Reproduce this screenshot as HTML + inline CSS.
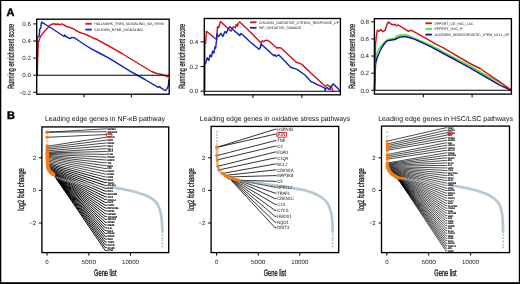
<!DOCTYPE html>
<html><head><meta charset="utf-8"><style>
html,body{margin:0;padding:0;background:#fff;}
svg{display:block;font-family:"Liberation Sans", sans-serif;will-change:transform;text-rendering:geometricPrecision;}
</style></head><body>
<svg width="520" height="284" viewBox="0 0 520 284">
<rect width="520" height="284" fill="#fff"/>
<rect x="0" y="0" width="520" height="1" fill="#000"/>
<rect x="0" y="0" width="1.3" height="284" fill="#000"/>
<rect x="518.8" y="0" width="1.2" height="284" fill="#000"/>
<rect x="0" y="282.2" width="520" height="1.8" fill="#000"/>
<text x="6.40" y="15.90" font-size="11" text-anchor="start" fill="#000" font-weight="bold" stroke="#000" stroke-width="0.45">A</text>
<text x="7.00" y="119.30" font-size="11" text-anchor="start" fill="#000" font-weight="bold" stroke="#000" stroke-width="0.45">B</text>
<line x1="33.20" y1="23.90" x2="36.70" y2="23.90" stroke="#000" stroke-width="1"/>
<text x="30.90" y="26.10" font-size="6.2" text-anchor="end" fill="#222" font-weight="normal" >0.6</text>
<line x1="33.20" y1="41.00" x2="36.70" y2="41.00" stroke="#000" stroke-width="1"/>
<text x="30.90" y="43.20" font-size="6.2" text-anchor="end" fill="#222" font-weight="normal" >0.4</text>
<line x1="33.20" y1="58.10" x2="36.70" y2="58.10" stroke="#000" stroke-width="1"/>
<text x="30.90" y="60.30" font-size="6.2" text-anchor="end" fill="#222" font-weight="normal" >0.2</text>
<line x1="33.20" y1="75.20" x2="36.70" y2="75.20" stroke="#000" stroke-width="1"/>
<text x="30.90" y="77.40" font-size="6.2" text-anchor="end" fill="#222" font-weight="normal" >0.0</text>
<line x1="33.20" y1="92.30" x2="36.70" y2="92.30" stroke="#000" stroke-width="1"/>
<text x="30.90" y="94.50" font-size="6.2" text-anchor="end" fill="#222" font-weight="normal" >−0.2</text>
<line x1="84.00" y1="94.20" x2="84.00" y2="97.40" stroke="#000" stroke-width="1"/>
<line x1="131.30" y1="94.20" x2="131.30" y2="97.40" stroke="#000" stroke-width="1"/>
<polyline points="37.30,75.20 37.60,60.00 38.20,43.40 39.20,40.00 40.30,37.00 41.30,35.50 42.40,33.90 43.50,32.50 44.50,31.20 46.00,29.80 47.70,28.00 49.00,26.50 50.30,24.90 52.00,24.20 54.00,23.80 56.00,24.20 58.00,24.00 60.40,24.60 62.00,23.80 64.00,25.00 66.70,26.50 70.00,27.50 73.00,28.60 76.00,30.50 79.40,32.30 82.00,33.30 84.70,33.90 88.00,35.50 92.30,37.70 96.00,39.00 99.40,40.80 107.00,45.00 115.20,49.60 122.00,53.50 130.00,58.50 140.00,64.50 151.50,71.50 157.00,73.50 163.00,74.80 166.00,76.20 167.20,76.80 168.50,76.00" fill="none" stroke="#d3121c" stroke-width="1.45" stroke-linejoin="round" stroke-linecap="round" />
<polyline points="37.10,75.20 37.10,50.00 37.10,37.00 38.50,36.50 39.20,36.00 39.80,29.10 40.80,28.00 41.20,24.00 41.60,22.20 52.00,28.50 64.00,36.50 64.60,34.90 66.00,36.50 69.90,38.60 72.00,37.40 74.10,37.60 80.00,41.50 85.00,45.00 91.40,48.80 101.10,54.00 109.00,58.10 130.00,71.10 145.00,79.50 158.10,87.30 159.60,86.40 160.60,87.70 163.00,89.20 165.60,90.60 167.20,88.40 168.40,85.60 168.90,80.00" fill="none" stroke="#0d26c2" stroke-width="1.45" stroke-linejoin="round" stroke-linecap="round" />
<line x1="36.70" y1="75.20" x2="169.20" y2="75.20" stroke="#000" stroke-width="1.1"/>
<rect x="36.70" y="19.20" width="132.50" height="75.00" fill="none" stroke="#000" stroke-width="1.35"/>
<text transform="translate(13.50,56.30) rotate(-90)" x="0" y="0" font-size="9" text-anchor="middle" fill="#1a1a1a" font-weight="normal" textLength="65" lengthAdjust="spacingAndGlyphs" stroke="#1a1a1a" stroke-width="0.3">Running enrichment score</text>
<line x1="85.30" y1="23.80" x2="91.80" y2="23.80" stroke="#d3121c" stroke-width="1.8"/>
<text x="94.30" y="25.05" font-size="3.6" text-anchor="start" fill="#111" font-weight="normal" textLength="69.5" lengthAdjust="spacingAndGlyphs" >HALLMARK_TNFA_SIGNALING_VIA_NFKB</text>
<line x1="85.30" y1="29.60" x2="91.80" y2="29.60" stroke="#0d26c2" stroke-width="1.8"/>
<text x="94.30" y="30.85" font-size="3.6" text-anchor="start" fill="#111" font-weight="normal" textLength="49" lengthAdjust="spacingAndGlyphs" >SCHOEN_NFKB_SIGNALING</text>
<line x1="200.50" y1="41.88" x2="204.30" y2="41.88" stroke="#000" stroke-width="1"/>
<text x="198.20" y="44.08" font-size="6.2" text-anchor="end" fill="#222" font-weight="normal" >0.4</text>
<line x1="200.50" y1="66.54" x2="204.30" y2="66.54" stroke="#000" stroke-width="1"/>
<text x="198.20" y="68.74" font-size="6.2" text-anchor="end" fill="#222" font-weight="normal" >0.2</text>
<line x1="200.50" y1="91.20" x2="204.30" y2="91.20" stroke="#000" stroke-width="1"/>
<text x="198.20" y="93.40" font-size="6.2" text-anchor="end" fill="#222" font-weight="normal" >0.0</text>
<line x1="252.90" y1="94.80" x2="252.90" y2="98.00" stroke="#000" stroke-width="1"/>
<line x1="301.90" y1="94.80" x2="301.90" y2="98.00" stroke="#000" stroke-width="1"/>
<polyline points="204.60,91.30 204.80,43.50 205.60,43.50 206.40,31.20 216.10,39.10 216.60,39.10 217.50,26.80 218.70,27.70 220.50,21.50 231.00,31.20 233.30,26.80 235.50,27.70 236.20,24.50 237.50,26.00 238.30,23.20 239.90,21.90 251.00,32.80 261.10,43.00 262.00,41.00 264.00,41.50 265.00,40.50 268.00,40.50 270.00,42.00 277.00,48.30 278.00,47.50 281.00,48.00 288.00,54.50 296.00,62.00 301.50,64.10 313.00,75.00 325.30,86.20 327.90,84.90 329.70,87.00 331.40,86.20 332.30,89.70 333.00,91.20" fill="none" stroke="#d3121c" stroke-width="1.45" stroke-linejoin="round" stroke-linecap="round" />
<polyline points="204.50,91.30 204.60,64.60 205.60,63.20 207.20,57.80 208.80,60.40 210.10,54.80 211.40,56.80 212.60,51.20 213.90,53.00 215.00,46.80 215.70,48.00 216.50,40.40 216.80,34.00 218.60,36.60 220.90,33.40 222.80,36.40 225.00,31.60 226.40,33.00 228.40,28.60 229.80,26.80 239.90,35.60 240.60,33.80 241.70,34.00 250.00,41.80 259.00,49.30 260.50,47.00 261.10,44.00 273.80,55.70 274.80,54.50 276.00,56.50 277.50,55.50 279.00,55.00 290.70,67.30 297.00,69.40 305.00,75.00 311.20,81.70 313.80,82.60 316.50,84.40 321.00,86.20 324.40,87.90 325.30,90.20 326.00,88.00 327.00,87.40 328.50,89.00 329.70,89.70 331.50,86.00 333.20,83.90 337.00,87.50 340.20,90.90" fill="none" stroke="#0d26c2" stroke-width="1.45" stroke-linejoin="round" stroke-linecap="round" />
<line x1="204.30" y1="91.20" x2="340.40" y2="91.20" stroke="#000" stroke-width="1.1"/>
<rect x="204.30" y="18.50" width="136.10" height="76.30" fill="none" stroke="#000" stroke-width="1.35"/>
<text transform="translate(184.70,56.30) rotate(-90)" x="0" y="0" font-size="9" text-anchor="middle" fill="#1a1a1a" font-weight="normal" textLength="65" lengthAdjust="spacingAndGlyphs" stroke="#1a1a1a" stroke-width="0.3">Running enrichment score</text>
<line x1="250.00" y1="22.30" x2="256.50" y2="22.30" stroke="#d3121c" stroke-width="1.8"/>
<text x="259.00" y="23.55" font-size="3.6" text-anchor="start" fill="#111" font-weight="normal" textLength="80" lengthAdjust="spacingAndGlyphs" >CHUANG_OXIDATIVE_STRESS_RESPONSE_UP</text>
<line x1="250.00" y1="27.80" x2="256.50" y2="27.80" stroke="#0d26c2" stroke-width="1.8"/>
<text x="259.00" y="29.05" font-size="3.6" text-anchor="start" fill="#111" font-weight="normal" textLength="42.3" lengthAdjust="spacingAndGlyphs" >WP_OXIDATIVE_DAMAGE</text>
<line x1="371.30" y1="21.82" x2="374.40" y2="21.82" stroke="#000" stroke-width="1"/>
<text x="369.00" y="24.02" font-size="6.2" text-anchor="end" fill="#222" font-weight="normal" >0.8</text>
<line x1="371.30" y1="38.94" x2="374.40" y2="38.94" stroke="#000" stroke-width="1"/>
<text x="369.00" y="41.14" font-size="6.2" text-anchor="end" fill="#222" font-weight="normal" >0.6</text>
<line x1="371.30" y1="56.06" x2="374.40" y2="56.06" stroke="#000" stroke-width="1"/>
<text x="369.00" y="58.26" font-size="6.2" text-anchor="end" fill="#222" font-weight="normal" >0.4</text>
<line x1="371.30" y1="73.18" x2="374.40" y2="73.18" stroke="#000" stroke-width="1"/>
<text x="369.00" y="75.38" font-size="6.2" text-anchor="end" fill="#222" font-weight="normal" >0.2</text>
<line x1="371.30" y1="90.30" x2="374.40" y2="90.30" stroke="#000" stroke-width="1"/>
<text x="369.00" y="92.50" font-size="6.2" text-anchor="end" fill="#222" font-weight="normal" >0.0</text>
<line x1="423.40" y1="94.10" x2="423.40" y2="97.30" stroke="#000" stroke-width="1"/>
<line x1="472.10" y1="94.10" x2="472.10" y2="97.30" stroke="#000" stroke-width="1"/>
<polyline points="374.50,90.30 375.00,72.00 376.20,55.00 377.60,51.20 379.00,48.90 380.80,46.50 382.60,44.30 385.00,41.50 387.00,40.00 389.60,39.20 394.90,38.30 396.50,36.00 398.00,35.80 401.00,34.80 403.00,35.30 405.50,34.80 409.00,36.00 412.50,37.40 422.00,41.40 430.60,45.20 450.00,55.30 470.00,66.00 485.00,74.40 501.40,83.50 506.00,86.80 510.50,90.00" fill="none" stroke="#3cee28" stroke-width="1.45" stroke-linejoin="round" stroke-linecap="round" />
<polyline points="374.50,90.30 375.00,78.00 375.50,63.80 377.00,58.00 379.00,53.20 380.80,49.50 382.60,46.20 385.00,43.00 387.00,40.90 390.00,40.20 394.90,39.50 397.50,38.00 400.20,37.00 404.60,36.50 409.00,37.50 414.30,39.10 422.00,42.70 430.60,46.70 450.00,57.00 470.00,67.90 485.00,76.50 499.80,85.10 504.60,87.40 510.50,90.00" fill="none" stroke="#1c0a96" stroke-width="1.45" stroke-linejoin="round" stroke-linecap="round" />
<polyline points="374.50,90.30 375.00,70.00 375.50,44.40 376.40,36.00 377.30,30.30 378.50,31.00 379.00,31.20 380.80,29.40 382.90,31.70 385.20,30.30 386.10,26.80 388.20,21.90 391.40,24.20 394.00,25.00 395.20,24.20 396.60,25.90 398.40,25.00 403.00,27.80 408.10,31.20 411.60,30.30 422.00,36.20 435.80,44.10 442.90,47.60 470.00,63.50 480.00,68.50 499.80,81.90 505.00,85.50 510.30,89.40" fill="none" stroke="#d3121c" stroke-width="1.45" stroke-linejoin="round" stroke-linecap="round" />
<line x1="374.40" y1="90.30" x2="511.40" y2="90.30" stroke="#000" stroke-width="1.1"/>
<rect x="374.40" y="18.70" width="137.00" height="75.40" fill="none" stroke="#000" stroke-width="1.35"/>
<text transform="translate(354.80,56.30) rotate(-90)" x="0" y="0" font-size="9" text-anchor="middle" fill="#1a1a1a" font-weight="normal" textLength="65" lengthAdjust="spacingAndGlyphs" stroke="#1a1a1a" stroke-width="0.3">Running enrichment score</text>
<line x1="425.40" y1="23.30" x2="431.90" y2="23.30" stroke="#d3121c" stroke-width="1.8"/>
<text x="434.40" y="24.55" font-size="3.6" text-anchor="start" fill="#111" font-weight="normal" textLength="39.3" lengthAdjust="spacingAndGlyphs" >EPPERT_CE_HSC_LSC</text>
<line x1="425.40" y1="28.90" x2="431.90" y2="28.90" stroke="#3cee28" stroke-width="1.8"/>
<text x="434.40" y="30.15" font-size="3.6" text-anchor="start" fill="#111" font-weight="normal" textLength="28.3" lengthAdjust="spacingAndGlyphs" >EPPERT_HSC_R</text>
<line x1="425.40" y1="34.60" x2="431.90" y2="34.60" stroke="#1c0a96" stroke-width="1.8"/>
<text x="434.40" y="35.85" font-size="3.6" text-anchor="start" fill="#111" font-weight="normal" textLength="75" lengthAdjust="spacingAndGlyphs" >JAATINEN_HEMATOPOIETIC_STEM_CELL_UP</text>
<line x1="38.90" y1="157.80" x2="41.90" y2="157.80" stroke="#000" stroke-width="1"/>
<text x="36.10" y="159.80" font-size="6" text-anchor="end" fill="#222" font-weight="normal" >2</text>
<line x1="38.90" y1="190.40" x2="41.90" y2="190.40" stroke="#000" stroke-width="1"/>
<text x="36.10" y="192.40" font-size="6" text-anchor="end" fill="#222" font-weight="normal" >0</text>
<line x1="38.90" y1="223.00" x2="41.90" y2="223.00" stroke="#000" stroke-width="1"/>
<text x="36.10" y="225.00" font-size="6" text-anchor="end" fill="#222" font-weight="normal" >−2</text>
<line x1="47.00" y1="252.60" x2="47.00" y2="255.60" stroke="#000" stroke-width="1"/>
<text x="47.00" y="264.00" font-size="6" text-anchor="middle" fill="#222" font-weight="normal" >0</text>
<line x1="88.75" y1="252.60" x2="88.75" y2="255.60" stroke="#000" stroke-width="1"/>
<text x="88.75" y="264.00" font-size="6" text-anchor="middle" fill="#222" font-weight="normal" textLength="14.6" lengthAdjust="spacingAndGlyphs" >5000</text>
<line x1="130.50" y1="252.60" x2="130.50" y2="255.60" stroke="#000" stroke-width="1"/>
<text x="130.50" y="264.00" font-size="6" text-anchor="middle" fill="#222" font-weight="normal" textLength="17" lengthAdjust="spacingAndGlyphs" >10000</text>
<text x="105.30" y="276.10" font-size="9.4" text-anchor="middle" fill="#1a1a1a" font-weight="normal" textLength="22.4" lengthAdjust="spacingAndGlyphs" stroke="#1a1a1a" stroke-width="0.35">Gene list</text>
<text transform="translate(24.10,189.40) rotate(-90)" x="0" y="0" font-size="9" text-anchor="middle" fill="#1a1a1a" font-weight="normal" textLength="42.5" lengthAdjust="spacingAndGlyphs" stroke="#1a1a1a" stroke-width="0.35">log2 fold change</text>
<text x="45.00" y="121.00" font-size="7" text-anchor="start" fill="#111" font-weight="normal" textLength="120.0" lengthAdjust="spacingAndGlyphs" >Leading edge genes in NF-κB pathway</text>
<polyline points="112.80,187.40 120.00,188.60 134.80,191.80 141.00,193.70 147.10,196.00 152.00,198.60 155.70,201.70 157.80,204.80 159.40,208.30 160.60,212.50 161.40,216.90 162.00,223.00 162.40,231.70" fill="none" stroke="#b6c9d3" stroke-width="2.6" stroke-linejoin="round" stroke-linecap="round" />
<path d="M47.20,132.20 L105.20,128.90 L106.80,128.90" fill="none" stroke="#000" stroke-width="0.72"/>
<path d="M47.20,132.20 L105.20,131.73 L106.80,131.73" fill="none" stroke="#000" stroke-width="0.72"/>
<path d="M47.20,137.30 L105.20,134.56 L106.80,134.56" fill="none" stroke="#000" stroke-width="0.72"/>
<path d="M47.30,146.20 L105.20,137.38 L106.80,137.38" fill="none" stroke="#000" stroke-width="0.72"/>
<path d="M47.30,147.73 L105.20,140.21 L106.80,140.21" fill="none" stroke="#000" stroke-width="0.72"/>
<path d="M47.30,149.27 L105.20,143.04 L106.80,143.04" fill="none" stroke="#000" stroke-width="0.72"/>
<path d="M47.30,150.80 L105.20,145.87 L106.80,145.87" fill="none" stroke="#000" stroke-width="0.72"/>
<path d="M47.30,152.20 L105.20,148.70 L106.80,148.70" fill="none" stroke="#000" stroke-width="0.72"/>
<path d="M47.30,152.90 L105.20,151.52 L106.80,151.52" fill="none" stroke="#000" stroke-width="0.72"/>
<path d="M47.30,153.60 L105.20,154.35 L106.80,154.35" fill="none" stroke="#000" stroke-width="0.72"/>
<path d="M47.30,154.30 L105.20,157.18 L106.80,157.18" fill="none" stroke="#000" stroke-width="0.72"/>
<path d="M47.30,155.40 L105.20,160.01 L106.80,160.01" fill="none" stroke="#000" stroke-width="0.72"/>
<path d="M47.30,156.35 L105.20,162.83 L106.80,162.83" fill="none" stroke="#000" stroke-width="0.72"/>
<path d="M47.30,157.30 L105.20,165.66 L106.80,165.66" fill="none" stroke="#000" stroke-width="0.72"/>
<path d="M47.30,158.40 L105.20,168.49 L106.80,168.49" fill="none" stroke="#000" stroke-width="0.72"/>
<path d="M47.40,159.70 L105.20,171.32 L106.80,171.32" fill="none" stroke="#000" stroke-width="0.72"/>
<path d="M47.50,161.00 L105.20,174.15 L106.80,174.15" fill="none" stroke="#000" stroke-width="0.72"/>
<path d="M47.60,162.30 L105.20,176.97 L106.80,176.97" fill="none" stroke="#000" stroke-width="0.72"/>
<path d="M47.70,163.60 L105.20,179.80 L106.80,179.80" fill="none" stroke="#000" stroke-width="0.95"/>
<path d="M47.71,164.82 L105.20,182.63 L106.80,182.63" fill="none" stroke="#000" stroke-width="0.95"/>
<path d="M47.76,165.95 L105.20,185.46 L106.80,185.46" fill="none" stroke="#000" stroke-width="0.95"/>
<path d="M47.88,166.98 L105.20,188.29 L106.80,188.29" fill="none" stroke="#000" stroke-width="0.95"/>
<path d="M48.08,167.92 L105.20,191.11 L106.80,191.11" fill="none" stroke="#000" stroke-width="0.95"/>
<path d="M48.35,168.77 L105.20,193.94 L106.80,193.94" fill="none" stroke="#000" stroke-width="0.95"/>
<path d="M48.69,169.55 L105.20,196.77 L106.80,196.77" fill="none" stroke="#000" stroke-width="0.95"/>
<path d="M49.08,170.24 L105.20,199.60 L106.80,199.60" fill="none" stroke="#000" stroke-width="0.95"/>
<path d="M49.50,170.87 L105.20,202.43 L106.80,202.43" fill="none" stroke="#000" stroke-width="0.95"/>
<path d="M49.95,171.42 L105.20,205.25 L106.80,205.25" fill="none" stroke="#000" stroke-width="0.95"/>
<path d="M50.40,171.91 L105.20,208.08 L106.80,208.08" fill="none" stroke="#000" stroke-width="0.95"/>
<path d="M50.84,172.34 L105.20,210.91 L106.80,210.91" fill="none" stroke="#000" stroke-width="0.95"/>
<path d="M51.25,172.71 L105.20,213.74 L106.80,213.74" fill="none" stroke="#000" stroke-width="0.95"/>
<path d="M51.64,173.03 L105.20,216.57 L106.80,216.57" fill="none" stroke="#000" stroke-width="0.95"/>
<path d="M51.99,173.30 L105.20,219.39 L106.80,219.39" fill="none" stroke="#000" stroke-width="0.95"/>
<path d="M52.29,173.52 L105.20,222.22 L106.80,222.22" fill="none" stroke="#000" stroke-width="0.95"/>
<path d="M52.55,173.71 L105.20,225.05 L106.80,225.05" fill="none" stroke="#000" stroke-width="0.95"/>
<path d="M52.77,173.85 L105.20,227.88 L106.80,227.88" fill="none" stroke="#000" stroke-width="0.95"/>
<path d="M52.94,173.97 L105.20,230.70 L106.80,230.70" fill="none" stroke="#000" stroke-width="0.95"/>
<path d="M53.07,174.05 L105.20,233.53 L106.80,233.53" fill="none" stroke="#000" stroke-width="0.95"/>
<path d="M53.17,174.12 L105.20,236.36 L106.80,236.36" fill="none" stroke="#000" stroke-width="0.95"/>
<path d="M53.23,174.16 L105.20,239.19 L106.80,239.19" fill="none" stroke="#000" stroke-width="0.95"/>
<path d="M53.27,174.18 L105.20,242.02 L106.80,242.02" fill="none" stroke="#000" stroke-width="0.95"/>
<path d="M53.29,174.19 L105.20,244.84 L106.80,244.84" fill="none" stroke="#000" stroke-width="0.95"/>
<path d="M53.30,174.20 L105.20,247.67 L106.80,247.67" fill="none" stroke="#000" stroke-width="0.95"/>
<path d="M53.30,174.20 L105.20,250.50 L106.80,250.50" fill="none" stroke="#000" stroke-width="0.95"/>
<polyline points="47.30,146.50 47.40,150.00 47.80,160.00 48.50,167.00 50.00,172.00 52.00,174.50 56.00,177.00 62.00,179.30 71.60,181.60 85.00,184.00 100.00,186.00 112.80,187.40 120.00,188.60 134.80,191.80 141.00,193.70 147.10,196.00 152.00,198.60 155.70,201.70 157.80,204.80 159.40,208.30 160.60,212.50 161.40,216.90 162.00,223.00 162.40,231.70" fill="none" stroke="#b6c9d3" stroke-width="2.4" stroke-linejoin="round" stroke-linecap="round" stroke-opacity="0.45"/>
<circle cx="47.20" cy="141.30" r="1.1" fill="#b6c9d3"/>
<circle cx="47.20" cy="144.40" r="1.1" fill="#b6c9d3"/>
<circle cx="162.40" cy="234.80" r="1.1" fill="#b6c9d3"/>
<circle cx="162.40" cy="237.90" r="1.1" fill="#b6c9d3"/>
<circle cx="162.40" cy="240.30" r="1.1" fill="#b6c9d3"/>
<circle cx="162.40" cy="243.50" r="1.1" fill="#b6c9d3"/>
<circle cx="162.40" cy="246.50" r="1.1" fill="#b6c9d3"/>
<circle cx="47.20" cy="132.20" r="1.75" fill="#f57a14"/>
<circle cx="47.20" cy="132.20" r="1.75" fill="#f57a14"/>
<circle cx="47.20" cy="137.30" r="1.75" fill="#f57a14"/>
<circle cx="47.30" cy="146.20" r="1.75" fill="#f57a14"/>
<circle cx="47.30" cy="147.73" r="1.75" fill="#f57a14"/>
<circle cx="47.30" cy="149.27" r="1.75" fill="#f57a14"/>
<circle cx="47.30" cy="150.80" r="1.75" fill="#f57a14"/>
<circle cx="47.30" cy="152.20" r="1.75" fill="#f57a14"/>
<circle cx="47.30" cy="152.90" r="1.75" fill="#f57a14"/>
<circle cx="47.30" cy="153.60" r="1.75" fill="#f57a14"/>
<circle cx="47.30" cy="154.30" r="1.75" fill="#f57a14"/>
<circle cx="47.30" cy="155.40" r="1.75" fill="#f57a14"/>
<circle cx="47.30" cy="156.35" r="1.75" fill="#f57a14"/>
<circle cx="47.30" cy="157.30" r="1.75" fill="#f57a14"/>
<circle cx="47.30" cy="158.40" r="1.75" fill="#f57a14"/>
<circle cx="47.40" cy="159.70" r="1.75" fill="#f57a14"/>
<circle cx="47.50" cy="161.00" r="1.75" fill="#f57a14"/>
<circle cx="47.60" cy="162.30" r="1.75" fill="#f57a14"/>
<circle cx="47.70" cy="163.60" r="1.75" fill="#f57a14"/>
<circle cx="47.71" cy="164.82" r="1.75" fill="#f57a14"/>
<circle cx="47.76" cy="165.95" r="1.75" fill="#f57a14"/>
<circle cx="47.88" cy="166.98" r="1.75" fill="#f57a14"/>
<circle cx="48.08" cy="167.92" r="1.75" fill="#f57a14"/>
<circle cx="48.35" cy="168.77" r="1.75" fill="#f57a14"/>
<circle cx="48.69" cy="169.55" r="1.75" fill="#f57a14"/>
<circle cx="49.08" cy="170.24" r="1.75" fill="#f57a14"/>
<circle cx="49.50" cy="170.87" r="1.75" fill="#f57a14"/>
<circle cx="49.95" cy="171.42" r="1.75" fill="#f57a14"/>
<circle cx="50.40" cy="171.91" r="1.75" fill="#f57a14"/>
<circle cx="50.84" cy="172.34" r="1.75" fill="#f57a14"/>
<circle cx="51.25" cy="172.71" r="1.75" fill="#f57a14"/>
<circle cx="51.64" cy="173.03" r="1.75" fill="#f57a14"/>
<circle cx="51.99" cy="173.30" r="1.75" fill="#f57a14"/>
<circle cx="52.29" cy="173.52" r="1.75" fill="#f57a14"/>
<circle cx="52.55" cy="173.71" r="1.75" fill="#f57a14"/>
<circle cx="52.77" cy="173.85" r="1.75" fill="#f57a14"/>
<circle cx="52.94" cy="173.97" r="1.75" fill="#f57a14"/>
<circle cx="53.07" cy="174.05" r="1.75" fill="#f57a14"/>
<circle cx="53.17" cy="174.12" r="1.75" fill="#f57a14"/>
<circle cx="53.23" cy="174.16" r="1.75" fill="#f57a14"/>
<circle cx="53.27" cy="174.18" r="1.75" fill="#f57a14"/>
<circle cx="53.29" cy="174.19" r="1.75" fill="#f57a14"/>
<circle cx="53.30" cy="174.20" r="1.75" fill="#f57a14"/>
<circle cx="53.30" cy="174.20" r="1.75" fill="#f57a14"/>
<text x="107.40" y="129.84" font-size="2.6" text-anchor="start" fill="#111" font-weight="normal" textLength="8.4" lengthAdjust="spacingAndGlyphs" stroke="#111" stroke-width="0.18">NFKBIA</text>
<text x="107.40" y="132.66" font-size="2.6" text-anchor="start" fill="#111" font-weight="normal" textLength="9.8" lengthAdjust="spacingAndGlyphs" stroke="#111" stroke-width="0.18">TNFAIP3</text>
<text x="107.40" y="135.49" font-size="2.6" text-anchor="start" fill="#111" font-weight="normal" textLength="4.2" lengthAdjust="spacingAndGlyphs" stroke="#111" stroke-width="0.18">JUN</text>
<text x="107.40" y="138.32" font-size="2.6" text-anchor="start" fill="#111" font-weight="normal" textLength="7.0" lengthAdjust="spacingAndGlyphs" stroke="#111" stroke-width="0.18">CXCL8</text>
<text x="107.40" y="141.15" font-size="2.6" text-anchor="start" fill="#111" font-weight="normal" textLength="5.6" lengthAdjust="spacingAndGlyphs" stroke="#111" stroke-width="0.18">IER3</text>
<text x="107.40" y="143.98" font-size="2.6" text-anchor="start" fill="#111" font-weight="normal" textLength="7.0" lengthAdjust="spacingAndGlyphs" stroke="#111" stroke-width="0.18">NFKB1</text>
<text x="107.40" y="146.80" font-size="2.6" text-anchor="start" fill="#111" font-weight="normal" textLength="5.6" lengthAdjust="spacingAndGlyphs" stroke="#111" stroke-width="0.18">RELB</text>
<text x="107.40" y="149.63" font-size="2.6" text-anchor="start" fill="#111" font-weight="normal" textLength="5.6" lengthAdjust="spacingAndGlyphs" stroke="#111" stroke-width="0.18">CCL4</text>
<text x="107.40" y="152.46" font-size="2.6" text-anchor="start" fill="#111" font-weight="normal" textLength="5.6" lengthAdjust="spacingAndGlyphs" stroke="#111" stroke-width="0.18">CCL3</text>
<text x="107.40" y="155.29" font-size="2.6" text-anchor="start" fill="#111" font-weight="normal" textLength="5.6" lengthAdjust="spacingAndGlyphs" stroke="#111" stroke-width="0.18">IL1B</text>
<text x="107.40" y="158.12" font-size="2.6" text-anchor="start" fill="#111" font-weight="normal" textLength="7.0" lengthAdjust="spacingAndGlyphs" stroke="#111" stroke-width="0.18">PTGS2</text>
<text x="107.40" y="160.94" font-size="2.6" text-anchor="start" fill="#111" font-weight="normal" textLength="7.0" lengthAdjust="spacingAndGlyphs" stroke="#111" stroke-width="0.18">BIRC3</text>
<text x="107.40" y="163.77" font-size="2.6" text-anchor="start" fill="#111" font-weight="normal" textLength="4.2" lengthAdjust="spacingAndGlyphs" stroke="#111" stroke-width="0.18">TNF</text>
<text x="107.40" y="166.60" font-size="2.6" text-anchor="start" fill="#111" font-weight="normal" textLength="5.6" lengthAdjust="spacingAndGlyphs" stroke="#111" stroke-width="0.18">EGR1</text>
<text x="107.40" y="169.43" font-size="2.6" text-anchor="start" fill="#111" font-weight="normal" textLength="4.2" lengthAdjust="spacingAndGlyphs" stroke="#111" stroke-width="0.18">FOS</text>
<text x="107.40" y="172.25" font-size="2.6" text-anchor="start" fill="#111" font-weight="normal" textLength="7.0" lengthAdjust="spacingAndGlyphs" stroke="#111" stroke-width="0.18">NR4A1</text>
<text x="107.40" y="175.08" font-size="2.6" text-anchor="start" fill="#111" font-weight="normal" textLength="7.0" lengthAdjust="spacingAndGlyphs" stroke="#111" stroke-width="0.18">ICAM1</text>
<text x="107.40" y="177.91" font-size="2.6" text-anchor="start" fill="#111" font-weight="normal" textLength="5.6" lengthAdjust="spacingAndGlyphs" stroke="#111" stroke-width="0.18">CD83</text>
<text x="107.40" y="180.74" font-size="2.6" text-anchor="start" fill="#111" font-weight="normal" textLength="5.6" lengthAdjust="spacingAndGlyphs" stroke="#111" stroke-width="0.18">SOD2</text>
<text x="107.40" y="183.57" font-size="2.6" text-anchor="start" fill="#111" font-weight="normal" textLength="7.0" lengthAdjust="spacingAndGlyphs" stroke="#111" stroke-width="0.18">TRAF1</text>
<text x="107.40" y="186.39" font-size="2.6" text-anchor="start" fill="#111" font-weight="normal" textLength="8.4" lengthAdjust="spacingAndGlyphs" stroke="#111" stroke-width="0.18">BCL2A1</text>
<text x="107.40" y="189.22" font-size="2.6" text-anchor="start" fill="#111" font-weight="normal" textLength="5.6" lengthAdjust="spacingAndGlyphs" stroke="#111" stroke-width="0.18">PLAU</text>
<text x="107.40" y="192.05" font-size="2.6" text-anchor="start" fill="#111" font-weight="normal" textLength="5.6" lengthAdjust="spacingAndGlyphs" stroke="#111" stroke-width="0.18">IRF1</text>
<text x="107.40" y="194.88" font-size="2.6" text-anchor="start" fill="#111" font-weight="normal" textLength="9.8" lengthAdjust="spacingAndGlyphs" stroke="#111" stroke-width="0.18">GADD45B</text>
<text x="107.40" y="197.71" font-size="2.6" text-anchor="start" fill="#111" font-weight="normal" textLength="5.6" lengthAdjust="spacingAndGlyphs" stroke="#111" stroke-width="0.18">ATF3</text>
<text x="107.40" y="200.53" font-size="2.6" text-anchor="start" fill="#111" font-weight="normal" textLength="8.4" lengthAdjust="spacingAndGlyphs" stroke="#111" stroke-width="0.18">CDKN1A</text>
<text x="107.40" y="203.36" font-size="2.6" text-anchor="start" fill="#111" font-weight="normal" textLength="5.6" lengthAdjust="spacingAndGlyphs" stroke="#111" stroke-width="0.18">KLF6</text>
<text x="107.40" y="206.19" font-size="2.6" text-anchor="start" fill="#111" font-weight="normal" textLength="7.0" lengthAdjust="spacingAndGlyphs" stroke="#111" stroke-width="0.18">DUSP1</text>
<text x="107.40" y="209.02" font-size="2.6" text-anchor="start" fill="#111" font-weight="normal" textLength="11.2" lengthAdjust="spacingAndGlyphs" stroke="#111" stroke-width="0.18">PPP1R15A</text>
<text x="107.40" y="211.85" font-size="2.6" text-anchor="start" fill="#111" font-weight="normal" textLength="7.0" lengthAdjust="spacingAndGlyphs" stroke="#111" stroke-width="0.18">ZFP36</text>
<text x="107.40" y="214.67" font-size="2.6" text-anchor="start" fill="#111" font-weight="normal" textLength="8.4" lengthAdjust="spacingAndGlyphs" stroke="#111" stroke-width="0.18">MAP3K8</text>
<text x="107.40" y="217.50" font-size="2.6" text-anchor="start" fill="#111" font-weight="normal" textLength="9.8" lengthAdjust="spacingAndGlyphs" stroke="#111" stroke-width="0.18">TNFAIP2</text>
<text x="107.40" y="220.33" font-size="2.6" text-anchor="start" fill="#111" font-weight="normal" textLength="8.4" lengthAdjust="spacingAndGlyphs" stroke="#111" stroke-width="0.18">SQSTM1</text>
<text x="107.40" y="223.16" font-size="2.6" text-anchor="start" fill="#111" font-weight="normal" textLength="7.0" lengthAdjust="spacingAndGlyphs" stroke="#111" stroke-width="0.18">NFKB2</text>
<text x="107.40" y="225.98" font-size="2.6" text-anchor="start" fill="#111" font-weight="normal" textLength="7.0" lengthAdjust="spacingAndGlyphs" stroke="#111" stroke-width="0.18">CEBPB</text>
<text x="107.40" y="228.81" font-size="2.6" text-anchor="start" fill="#111" font-weight="normal" textLength="4.2" lengthAdjust="spacingAndGlyphs" stroke="#111" stroke-width="0.18">IL6</text>
<text x="107.40" y="231.64" font-size="2.6" text-anchor="start" fill="#111" font-weight="normal" textLength="5.6" lengthAdjust="spacingAndGlyphs" stroke="#111" stroke-width="0.18">IRF4</text>
<text x="107.40" y="234.47" font-size="2.6" text-anchor="start" fill="#111" font-weight="normal" textLength="7.0" lengthAdjust="spacingAndGlyphs" stroke="#111" stroke-width="0.18">PDE4B</text>
<text x="107.40" y="237.30" font-size="2.6" text-anchor="start" fill="#111" font-weight="normal" textLength="7.0" lengthAdjust="spacingAndGlyphs" stroke="#111" stroke-width="0.18">RIPK2</text>
<text x="107.40" y="240.12" font-size="2.6" text-anchor="start" fill="#111" font-weight="normal" textLength="5.6" lengthAdjust="spacingAndGlyphs" stroke="#111" stroke-width="0.18">SGK1</text>
<text x="107.40" y="242.95" font-size="2.6" text-anchor="start" fill="#111" font-weight="normal" textLength="7.0" lengthAdjust="spacingAndGlyphs" stroke="#111" stroke-width="0.18">TNIP1</text>
<text x="107.40" y="245.78" font-size="2.6" text-anchor="start" fill="#111" font-weight="normal" textLength="7.0" lengthAdjust="spacingAndGlyphs" stroke="#111" stroke-width="0.18">IFIT2</text>
<text x="107.40" y="248.61" font-size="2.6" text-anchor="start" fill="#111" font-weight="normal" textLength="7.0" lengthAdjust="spacingAndGlyphs" stroke="#111" stroke-width="0.18">CCL20</text>
<text x="107.40" y="251.44" font-size="2.6" text-anchor="start" fill="#111" font-weight="normal" textLength="5.6" lengthAdjust="spacingAndGlyphs" stroke="#111" stroke-width="0.18">BTG2</text>
<rect x="106.30" y="133.20" width="5.60" height="3.30" fill="none" stroke="#e3202c" stroke-width="1.0" rx="0.6"/>
<rect x="41.90" y="126.90" width="126.80" height="125.70" fill="none" stroke="#000" stroke-width="1.35"/>
<line x1="208.10" y1="157.80" x2="211.10" y2="157.80" stroke="#000" stroke-width="1"/>
<text x="205.30" y="159.80" font-size="6" text-anchor="end" fill="#222" font-weight="normal" >2</text>
<line x1="208.10" y1="190.40" x2="211.10" y2="190.40" stroke="#000" stroke-width="1"/>
<text x="205.30" y="192.40" font-size="6" text-anchor="end" fill="#222" font-weight="normal" >0</text>
<line x1="208.10" y1="223.00" x2="211.10" y2="223.00" stroke="#000" stroke-width="1"/>
<text x="205.30" y="225.00" font-size="6" text-anchor="end" fill="#222" font-weight="normal" >−2</text>
<line x1="216.60" y1="252.60" x2="216.60" y2="255.60" stroke="#000" stroke-width="1"/>
<text x="216.60" y="264.00" font-size="6" text-anchor="middle" fill="#222" font-weight="normal" >0</text>
<line x1="258.20" y1="252.60" x2="258.20" y2="255.60" stroke="#000" stroke-width="1"/>
<text x="258.20" y="264.00" font-size="6" text-anchor="middle" fill="#222" font-weight="normal" textLength="14.6" lengthAdjust="spacingAndGlyphs" >5000</text>
<line x1="299.80" y1="252.60" x2="299.80" y2="255.60" stroke="#000" stroke-width="1"/>
<text x="299.80" y="264.00" font-size="6" text-anchor="middle" fill="#222" font-weight="normal" textLength="17" lengthAdjust="spacingAndGlyphs" >10000</text>
<text x="274.90" y="276.10" font-size="9.4" text-anchor="middle" fill="#1a1a1a" font-weight="normal" textLength="22.4" lengthAdjust="spacingAndGlyphs" stroke="#1a1a1a" stroke-width="0.35">Gene list</text>
<text transform="translate(193.80,189.40) rotate(-90)" x="0" y="0" font-size="9" text-anchor="middle" fill="#1a1a1a" font-weight="normal" textLength="42.5" lengthAdjust="spacingAndGlyphs" stroke="#1a1a1a" stroke-width="0.35">log2 fold change</text>
<text x="199.80" y="121.00" font-size="7" text-anchor="start" fill="#111" font-weight="normal" textLength="150.2" lengthAdjust="spacingAndGlyphs" >Leading edge genes in oxidative stress pathways</text>
<polyline points="217.00,146.50 217.00,150.00 217.10,160.00 217.60,165.00 218.60,169.00 220.50,171.80 222.50,173.40 225.00,175.50 227.50,177.00 231.00,178.50 235.00,179.40 239.20,180.30 245.00,181.80 254.00,182.60 262.00,183.60 270.00,184.80 281.30,186.30 290.00,187.60 304.80,190.30 311.00,192.20 317.10,194.80 322.00,197.60 325.70,200.90 327.80,203.80 329.40,207.10 330.80,211.50 331.90,216.90 332.40,223.00 332.60,231.70" fill="none" stroke="#b6c9d3" stroke-width="2.6" stroke-linejoin="round" stroke-linecap="round" />
<path d="M217.00,147.30 L275.00,129.30 L276.60,129.30" fill="none" stroke="#000" stroke-width="0.8"/>
<path d="M217.00,147.30 L275.00,134.20 L276.60,134.20" fill="none" stroke="#000" stroke-width="0.8"/>
<path d="M216.90,155.60 L275.00,140.70 L276.60,140.70" fill="none" stroke="#000" stroke-width="0.8"/>
<path d="M217.30,159.90 L275.00,146.20 L276.60,146.20" fill="none" stroke="#000" stroke-width="0.8"/>
<path d="M217.90,166.30 L275.00,152.00 L276.60,152.00" fill="none" stroke="#000" stroke-width="0.8"/>
<path d="M219.00,169.90 L275.00,157.90 L276.60,157.90" fill="none" stroke="#000" stroke-width="0.8"/>
<path d="M222.50,173.40 L275.00,164.00 L276.60,164.00" fill="none" stroke="#000" stroke-width="0.8"/>
<path d="M225.00,175.50 L275.00,169.90 L276.60,169.90" fill="none" stroke="#000" stroke-width="0.8"/>
<path d="M227.50,177.00 L275.00,175.60 L276.60,175.60" fill="none" stroke="#000" stroke-width="0.8"/>
<path d="M239.20,180.30 L275.00,181.30 L276.60,181.30" fill="none" stroke="#000" stroke-width="0.8"/>
<path d="M237.20,179.80 L275.00,187.20 L276.60,187.20" fill="none" stroke="#000" stroke-width="0.8"/>
<path d="M235.20,179.30 L275.00,193.10 L276.60,193.10" fill="none" stroke="#000" stroke-width="0.8"/>
<path d="M233.20,178.90 L275.00,198.60 L276.60,198.60" fill="none" stroke="#000" stroke-width="0.8"/>
<path d="M231.30,178.50 L275.00,204.30 L276.60,204.30" fill="none" stroke="#000" stroke-width="0.8"/>
<path d="M230.60,178.40 L275.00,210.40 L276.60,210.40" fill="none" stroke="#000" stroke-width="0.8"/>
<path d="M230.00,178.30 L275.00,216.30 L276.60,216.30" fill="none" stroke="#000" stroke-width="0.8"/>
<path d="M229.60,178.30 L275.00,222.20 L276.60,222.20" fill="none" stroke="#000" stroke-width="0.8"/>
<path d="M229.30,178.20 L275.00,227.70 L276.60,227.70" fill="none" stroke="#000" stroke-width="0.8"/>
<polyline points="217.00,146.50 217.00,150.00 217.10,160.00 217.60,165.00 218.60,169.00 220.50,171.80 222.50,173.40 225.00,175.50 227.50,177.00 231.00,178.50 235.00,179.40 239.20,180.30 245.00,181.80 254.00,182.60 262.00,183.60 270.00,184.80 281.30,186.30 290.00,187.60 304.80,190.30 311.00,192.20 317.10,194.80 322.00,197.60 325.70,200.90 327.80,203.80 329.40,207.10 330.80,211.50 331.90,216.90 332.40,223.00 332.60,231.70" fill="none" stroke="#b6c9d3" stroke-width="2.4" stroke-linejoin="round" stroke-linecap="round" stroke-opacity="0.45"/>
<circle cx="217.00" cy="131.80" r="1.1" fill="#b6c9d3"/>
<circle cx="217.00" cy="134.90" r="1.1" fill="#b6c9d3"/>
<circle cx="217.00" cy="138.00" r="1.1" fill="#b6c9d3"/>
<circle cx="217.00" cy="141.20" r="1.1" fill="#b6c9d3"/>
<circle cx="217.00" cy="144.00" r="1.1" fill="#b6c9d3"/>
<circle cx="332.60" cy="234.60" r="1.1" fill="#b6c9d3"/>
<circle cx="332.60" cy="237.90" r="1.1" fill="#b6c9d3"/>
<circle cx="332.60" cy="240.30" r="1.1" fill="#b6c9d3"/>
<circle cx="332.60" cy="243.50" r="1.1" fill="#b6c9d3"/>
<circle cx="332.60" cy="246.50" r="1.1" fill="#b6c9d3"/>
<circle cx="217.00" cy="147.30" r="1.65" fill="#f57a14"/>
<circle cx="217.00" cy="147.30" r="1.65" fill="#f57a14"/>
<circle cx="216.90" cy="155.60" r="1.65" fill="#f57a14"/>
<circle cx="217.30" cy="159.90" r="1.65" fill="#f57a14"/>
<circle cx="217.90" cy="166.30" r="1.65" fill="#f57a14"/>
<circle cx="219.00" cy="169.90" r="1.65" fill="#f57a14"/>
<circle cx="222.50" cy="173.40" r="1.65" fill="#f57a14"/>
<circle cx="225.00" cy="175.50" r="1.65" fill="#f57a14"/>
<circle cx="227.50" cy="177.00" r="1.65" fill="#f57a14"/>
<circle cx="239.20" cy="180.30" r="1.65" fill="#f57a14"/>
<circle cx="237.20" cy="179.80" r="1.65" fill="#f57a14"/>
<circle cx="235.20" cy="179.30" r="1.65" fill="#f57a14"/>
<circle cx="233.20" cy="178.90" r="1.65" fill="#f57a14"/>
<circle cx="231.30" cy="178.50" r="1.65" fill="#f57a14"/>
<circle cx="230.60" cy="178.40" r="1.65" fill="#f57a14"/>
<circle cx="230.00" cy="178.30" r="1.65" fill="#f57a14"/>
<circle cx="229.60" cy="178.30" r="1.65" fill="#f57a14"/>
<circle cx="229.30" cy="178.20" r="1.65" fill="#f57a14"/>
<text x="277.20" y="130.99" font-size="4.7" text-anchor="start" fill="#111" font-weight="normal" textLength="15.83" lengthAdjust="spacingAndGlyphs" >HSPA1B</text>
<text x="277.20" y="135.89" font-size="4.7" text-anchor="start" fill="#111" font-weight="normal" textLength="7.95" lengthAdjust="spacingAndGlyphs" >JUN</text>
<text x="277.20" y="142.39" font-size="4.7" text-anchor="start" fill="#111" font-weight="normal" textLength="7.95" lengthAdjust="spacingAndGlyphs" >TNF</text>
<text x="277.20" y="147.89" font-size="4.7" text-anchor="start" fill="#111" font-weight="normal" textLength="5.23" lengthAdjust="spacingAndGlyphs" >C3</text>
<text x="277.20" y="153.69" font-size="4.7" text-anchor="start" fill="#111" font-weight="normal" textLength="11.13" lengthAdjust="spacingAndGlyphs" >EGR1</text>
<text x="277.20" y="159.59" font-size="4.7" text-anchor="start" fill="#111" font-weight="normal" textLength="11.13" lengthAdjust="spacingAndGlyphs" >C1QA</text>
<text x="277.20" y="165.69" font-size="4.7" text-anchor="start" fill="#111" font-weight="normal" textLength="10.23" lengthAdjust="spacingAndGlyphs" >BCL2</text>
<text x="277.20" y="171.59" font-size="4.7" text-anchor="start" fill="#111" font-weight="normal" textLength="16.59" lengthAdjust="spacingAndGlyphs" >CDKN1A</text>
<text x="277.20" y="177.29" font-size="4.7" text-anchor="start" fill="#111" font-weight="normal" textLength="16.14" lengthAdjust="spacingAndGlyphs" >MAP3K8</text>
<text x="277.20" y="182.99" font-size="4.7" text-anchor="start" fill="#111" font-weight="normal" textLength="5.23" lengthAdjust="spacingAndGlyphs" >C5</text>
<text x="277.20" y="188.89" font-size="4.7" text-anchor="start" fill="#111" font-weight="normal" textLength="15.0" lengthAdjust="spacingAndGlyphs" >NFE2L2</text>
<text x="277.20" y="194.79" font-size="4.7" text-anchor="start" fill="#111" font-weight="normal" textLength="12.95" lengthAdjust="spacingAndGlyphs" >TRAF1</text>
<text x="277.20" y="200.29" font-size="4.7" text-anchor="start" fill="#111" font-weight="normal" textLength="16.81" lengthAdjust="spacingAndGlyphs" >CDKN1C</text>
<text x="277.20" y="205.99" font-size="4.7" text-anchor="start" fill="#111" font-weight="normal" textLength="7.95" lengthAdjust="spacingAndGlyphs" >C1S</text>
<text x="277.20" y="212.09" font-size="4.7" text-anchor="start" fill="#111" font-weight="normal" textLength="11.36" lengthAdjust="spacingAndGlyphs" >CYCS</text>
<text x="277.20" y="217.99" font-size="4.7" text-anchor="start" fill="#111" font-weight="normal" textLength="14.54" lengthAdjust="spacingAndGlyphs" >HMOX1</text>
<text x="277.20" y="223.89" font-size="4.7" text-anchor="start" fill="#111" font-weight="normal" textLength="11.59" lengthAdjust="spacingAndGlyphs" >NQO1</text>
<text x="277.20" y="229.39" font-size="4.7" text-anchor="start" fill="#111" font-weight="normal" textLength="11.81" lengthAdjust="spacingAndGlyphs" >DDIT3</text>
<rect x="276.90" y="132.40" width="9.60" height="4.80" fill="none" stroke="#e3202c" stroke-width="1.0" rx="0.6"/>
<rect x="211.10" y="126.40" width="127.60" height="126.20" fill="none" stroke="#000" stroke-width="1.35"/>
<line x1="378.50" y1="157.80" x2="381.50" y2="157.80" stroke="#000" stroke-width="1"/>
<text x="375.70" y="159.80" font-size="6" text-anchor="end" fill="#222" font-weight="normal" >2</text>
<line x1="378.50" y1="190.40" x2="381.50" y2="190.40" stroke="#000" stroke-width="1"/>
<text x="375.70" y="192.40" font-size="6" text-anchor="end" fill="#222" font-weight="normal" >0</text>
<line x1="378.50" y1="223.00" x2="381.50" y2="223.00" stroke="#000" stroke-width="1"/>
<text x="375.70" y="225.00" font-size="6" text-anchor="end" fill="#222" font-weight="normal" >−2</text>
<line x1="386.80" y1="252.60" x2="386.80" y2="255.60" stroke="#000" stroke-width="1"/>
<text x="386.80" y="264.00" font-size="6" text-anchor="middle" fill="#222" font-weight="normal" >0</text>
<line x1="428.70" y1="252.60" x2="428.70" y2="255.60" stroke="#000" stroke-width="1"/>
<text x="428.70" y="264.00" font-size="6" text-anchor="middle" fill="#222" font-weight="normal" textLength="14.6" lengthAdjust="spacingAndGlyphs" >5000</text>
<line x1="470.60" y1="252.60" x2="470.60" y2="255.60" stroke="#000" stroke-width="1"/>
<text x="470.60" y="264.00" font-size="6" text-anchor="middle" fill="#222" font-weight="normal" textLength="17" lengthAdjust="spacingAndGlyphs" >10000</text>
<text x="445.50" y="276.10" font-size="9.4" text-anchor="middle" fill="#1a1a1a" font-weight="normal" textLength="22.4" lengthAdjust="spacingAndGlyphs" stroke="#1a1a1a" stroke-width="0.35">Gene list</text>
<text transform="translate(364.30,189.40) rotate(-90)" x="0" y="0" font-size="9" text-anchor="middle" fill="#1a1a1a" font-weight="normal" textLength="42.5" lengthAdjust="spacingAndGlyphs" stroke="#1a1a1a" stroke-width="0.35">log2 fold change</text>
<text x="378.20" y="121.00" font-size="7" text-anchor="start" fill="#111" font-weight="normal" textLength="134.8" lengthAdjust="spacingAndGlyphs" >Leading edge genes in HSC/LSC pathways</text>
<polyline points="450.00,185.00 460.00,186.90 468.00,188.40 475.90,190.30 481.00,191.90 486.50,194.00 490.80,196.20 494.40,198.80 497.20,201.40 499.20,204.10 500.70,207.80 501.80,212.00 502.50,217.00 502.90,222.60 503.10,231.90" fill="none" stroke="#b6c9d3" stroke-width="2.6" stroke-linejoin="round" stroke-linecap="round" />
<path d="M387.30,141.10 L445.80,127.80 L447.40,127.80" fill="none" stroke="#000" stroke-width="0.7"/>
<path d="M387.30,144.00 L445.80,130.31 L447.40,130.31" fill="none" stroke="#000" stroke-width="0.7"/>
<path d="M387.30,145.57 L445.80,132.82 L447.40,132.82" fill="none" stroke="#000" stroke-width="0.7"/>
<path d="M387.30,147.15 L445.80,135.33 L447.40,135.33" fill="none" stroke="#000" stroke-width="0.7"/>
<path d="M387.30,148.73 L445.80,137.84 L447.40,137.84" fill="none" stroke="#000" stroke-width="0.7"/>
<path d="M387.30,150.30 L445.80,140.35 L447.40,140.35" fill="none" stroke="#000" stroke-width="0.7"/>
<path d="M387.30,154.50 L445.80,142.86 L447.40,142.86" fill="none" stroke="#000" stroke-width="0.7"/>
<path d="M387.30,156.07 L445.80,145.37 L447.40,145.37" fill="none" stroke="#000" stroke-width="0.7"/>
<path d="M387.30,157.63 L445.80,147.88 L447.40,147.88" fill="none" stroke="#000" stroke-width="0.7"/>
<path d="M387.30,159.20 L445.80,150.39 L447.40,150.39" fill="none" stroke="#000" stroke-width="0.7"/>
<path d="M387.30,163.00 L445.80,152.90 L447.40,152.90" fill="none" stroke="#000" stroke-width="0.7"/>
<path d="M387.30,163.65 L445.80,155.41 L447.40,155.41" fill="none" stroke="#000" stroke-width="0.7"/>
<path d="M387.32,164.29 L445.80,157.92 L447.40,157.92" fill="none" stroke="#000" stroke-width="0.7"/>
<path d="M387.35,164.92 L445.80,160.43 L447.40,160.43" fill="none" stroke="#000" stroke-width="0.7"/>
<path d="M387.41,165.53 L445.80,162.94 L447.40,162.94" fill="none" stroke="#000" stroke-width="0.7"/>
<path d="M387.49,166.13 L445.80,165.45 L447.40,165.45" fill="none" stroke="#000" stroke-width="0.7"/>
<path d="M387.59,166.71 L445.80,167.96 L447.40,167.96" fill="none" stroke="#000" stroke-width="0.7"/>
<path d="M387.72,167.28 L445.80,170.47 L447.40,170.47" fill="none" stroke="#000" stroke-width="0.7"/>
<path d="M387.88,167.84 L445.80,172.98 L447.40,172.98" fill="none" stroke="#000" stroke-width="0.7"/>
<path d="M388.06,168.38 L445.80,175.49 L447.40,175.49" fill="none" stroke="#000" stroke-width="0.7"/>
<path d="M388.28,168.91 L445.80,178.00 L447.40,178.00" fill="none" stroke="#000" stroke-width="0.7"/>
<path d="M388.51,169.42 L445.80,180.51 L447.40,180.51" fill="none" stroke="#000" stroke-width="0.7"/>
<path d="M388.77,169.92 L445.80,183.02 L447.40,183.02" fill="none" stroke="#000" stroke-width="0.7"/>
<path d="M389.05,170.41 L445.80,185.53 L447.40,185.53" fill="none" stroke="#000" stroke-width="0.7"/>
<path d="M389.36,170.88 L445.80,188.04 L447.40,188.04" fill="none" stroke="#000" stroke-width="0.7"/>
<path d="M389.68,171.33 L445.80,190.56 L447.40,190.56" fill="none" stroke="#000" stroke-width="0.7"/>
<path d="M390.02,171.77 L445.80,193.07 L447.40,193.07" fill="none" stroke="#000" stroke-width="0.7"/>
<path d="M390.38,172.20 L445.80,195.58 L447.40,195.58" fill="none" stroke="#000" stroke-width="0.7"/>
<path d="M390.75,172.61 L445.80,198.09 L447.40,198.09" fill="none" stroke="#000" stroke-width="0.7"/>
<path d="M391.13,173.00 L445.80,200.60 L447.40,200.60" fill="none" stroke="#000" stroke-width="0.7"/>
<path d="M391.52,173.38 L445.80,203.11 L447.40,203.11" fill="none" stroke="#000" stroke-width="0.7"/>
<path d="M391.91,173.74 L445.80,205.62 L447.40,205.62" fill="none" stroke="#000" stroke-width="0.7"/>
<path d="M392.31,174.09 L445.80,208.13 L447.40,208.13" fill="none" stroke="#000" stroke-width="0.7"/>
<path d="M392.71,174.42 L445.80,210.64 L447.40,210.64" fill="none" stroke="#000" stroke-width="0.7"/>
<path d="M393.11,174.74 L445.80,213.15 L447.40,213.15" fill="none" stroke="#000" stroke-width="0.7"/>
<path d="M393.50,175.04 L445.80,215.66 L447.40,215.66" fill="none" stroke="#000" stroke-width="0.7"/>
<path d="M393.88,175.32 L445.80,218.17 L447.40,218.17" fill="none" stroke="#000" stroke-width="0.7"/>
<path d="M394.26,175.59 L445.80,220.68 L447.40,220.68" fill="none" stroke="#000" stroke-width="0.7"/>
<path d="M394.62,175.83 L445.80,223.19 L447.40,223.19" fill="none" stroke="#000" stroke-width="0.7"/>
<path d="M394.97,176.07 L445.80,225.70 L447.40,225.70" fill="none" stroke="#000" stroke-width="0.7"/>
<path d="M395.30,176.28 L445.80,228.21 L447.40,228.21" fill="none" stroke="#000" stroke-width="0.7"/>
<path d="M395.61,176.47 L445.80,230.72 L447.40,230.72" fill="none" stroke="#000" stroke-width="0.7"/>
<path d="M395.90,176.65 L445.80,233.23 L447.40,233.23" fill="none" stroke="#000" stroke-width="0.7"/>
<path d="M396.16,176.81 L445.80,235.74 L447.40,235.74" fill="none" stroke="#000" stroke-width="0.7"/>
<path d="M396.39,176.95 L445.80,238.25 L447.40,238.25" fill="none" stroke="#000" stroke-width="0.7"/>
<path d="M396.59,177.06 L445.80,240.76 L447.40,240.76" fill="none" stroke="#000" stroke-width="0.7"/>
<path d="M396.75,177.16 L445.80,243.27 L447.40,243.27" fill="none" stroke="#000" stroke-width="0.7"/>
<path d="M396.88,177.23 L445.80,245.78 L447.40,245.78" fill="none" stroke="#000" stroke-width="0.7"/>
<path d="M396.97,177.28 L445.80,248.29 L447.40,248.29" fill="none" stroke="#000" stroke-width="0.7"/>
<path d="M397.00,177.30 L445.80,250.80 L447.40,250.80" fill="none" stroke="#000" stroke-width="0.7"/>
<polyline points="387.30,141.50 387.30,150.00 387.40,160.00 388.00,166.00 389.20,169.70 391.30,173.20 395.50,176.80 401.00,178.20 410.00,179.80 425.00,181.60 440.00,183.40 450.00,185.00 460.00,186.90 468.00,188.40 475.90,190.30 481.00,191.90 486.50,194.00 490.80,196.20 494.40,198.80 497.20,201.40 499.20,204.10 500.70,207.80 501.80,212.00 502.50,217.00 502.90,222.60 503.10,231.90" fill="none" stroke="#b6c9d3" stroke-width="2.4" stroke-linejoin="round" stroke-linecap="round" stroke-opacity="0.45"/>
<circle cx="387.30" cy="132.10" r="1.1" fill="#b6c9d3"/>
<circle cx="387.30" cy="136.40" r="1.1" fill="#b6c9d3"/>
<circle cx="503.10" cy="234.80" r="1.1" fill="#b6c9d3"/>
<circle cx="503.10" cy="238.00" r="1.1" fill="#b6c9d3"/>
<circle cx="503.10" cy="241.30" r="1.1" fill="#b6c9d3"/>
<circle cx="503.10" cy="244.60" r="1.1" fill="#b6c9d3"/>
<circle cx="503.10" cy="247.40" r="1.1" fill="#b6c9d3"/>
<circle cx="387.30" cy="141.10" r="1.55" fill="#f57a14"/>
<circle cx="387.30" cy="144.00" r="1.55" fill="#f57a14"/>
<circle cx="387.30" cy="145.57" r="1.55" fill="#f57a14"/>
<circle cx="387.30" cy="147.15" r="1.55" fill="#f57a14"/>
<circle cx="387.30" cy="148.73" r="1.55" fill="#f57a14"/>
<circle cx="387.30" cy="150.30" r="1.55" fill="#f57a14"/>
<circle cx="387.30" cy="154.50" r="1.55" fill="#f57a14"/>
<circle cx="387.30" cy="156.07" r="1.55" fill="#f57a14"/>
<circle cx="387.30" cy="157.63" r="1.55" fill="#f57a14"/>
<circle cx="387.30" cy="159.20" r="1.55" fill="#f57a14"/>
<circle cx="387.30" cy="163.00" r="1.55" fill="#f57a14"/>
<circle cx="387.30" cy="163.65" r="1.55" fill="#f57a14"/>
<circle cx="387.32" cy="164.29" r="1.55" fill="#f57a14"/>
<circle cx="387.35" cy="164.92" r="1.55" fill="#f57a14"/>
<circle cx="387.41" cy="165.53" r="1.55" fill="#f57a14"/>
<circle cx="387.49" cy="166.13" r="1.55" fill="#f57a14"/>
<circle cx="387.59" cy="166.71" r="1.55" fill="#f57a14"/>
<circle cx="387.72" cy="167.28" r="1.55" fill="#f57a14"/>
<circle cx="387.88" cy="167.84" r="1.55" fill="#f57a14"/>
<circle cx="388.06" cy="168.38" r="1.55" fill="#f57a14"/>
<circle cx="388.28" cy="168.91" r="1.55" fill="#f57a14"/>
<circle cx="388.51" cy="169.42" r="1.55" fill="#f57a14"/>
<circle cx="388.77" cy="169.92" r="1.55" fill="#f57a14"/>
<circle cx="389.05" cy="170.41" r="1.55" fill="#f57a14"/>
<circle cx="389.36" cy="170.88" r="1.55" fill="#f57a14"/>
<circle cx="389.68" cy="171.33" r="1.55" fill="#f57a14"/>
<circle cx="390.02" cy="171.77" r="1.55" fill="#f57a14"/>
<circle cx="390.38" cy="172.20" r="1.55" fill="#f57a14"/>
<circle cx="390.75" cy="172.61" r="1.55" fill="#f57a14"/>
<circle cx="391.13" cy="173.00" r="1.55" fill="#f57a14"/>
<circle cx="391.52" cy="173.38" r="1.55" fill="#f57a14"/>
<circle cx="391.91" cy="173.74" r="1.55" fill="#f57a14"/>
<circle cx="392.31" cy="174.09" r="1.55" fill="#f57a14"/>
<circle cx="392.71" cy="174.42" r="1.55" fill="#f57a14"/>
<circle cx="393.11" cy="174.74" r="1.55" fill="#f57a14"/>
<circle cx="393.50" cy="175.04" r="1.55" fill="#f57a14"/>
<circle cx="393.88" cy="175.32" r="1.55" fill="#f57a14"/>
<circle cx="394.26" cy="175.59" r="1.55" fill="#f57a14"/>
<circle cx="394.62" cy="175.83" r="1.55" fill="#f57a14"/>
<circle cx="394.97" cy="176.07" r="1.55" fill="#f57a14"/>
<circle cx="395.30" cy="176.28" r="1.55" fill="#f57a14"/>
<circle cx="395.61" cy="176.47" r="1.55" fill="#f57a14"/>
<circle cx="395.90" cy="176.65" r="1.55" fill="#f57a14"/>
<circle cx="396.16" cy="176.81" r="1.55" fill="#f57a14"/>
<circle cx="396.39" cy="176.95" r="1.55" fill="#f57a14"/>
<circle cx="396.59" cy="177.06" r="1.55" fill="#f57a14"/>
<circle cx="396.75" cy="177.16" r="1.55" fill="#f57a14"/>
<circle cx="396.88" cy="177.23" r="1.55" fill="#f57a14"/>
<circle cx="396.97" cy="177.28" r="1.55" fill="#f57a14"/>
<circle cx="397.00" cy="177.30" r="1.55" fill="#f57a14"/>
<circle cx="399.50" cy="177.90" r="1.55" fill="#f57a14"/>
<circle cx="402.00" cy="178.30" r="1.55" fill="#f57a14"/>
<circle cx="404.50" cy="178.70" r="1.55" fill="#f57a14"/>
<text x="448.00" y="128.70" font-size="2.5" text-anchor="start" fill="#111" font-weight="normal" textLength="5.4" lengthAdjust="spacingAndGlyphs" stroke="#111" stroke-width="0.18">CD34</text>
<text x="448.00" y="131.21" font-size="2.5" text-anchor="start" fill="#111" font-weight="normal" textLength="6.75" lengthAdjust="spacingAndGlyphs" stroke="#111" stroke-width="0.18">GATA2</text>
<text x="448.00" y="133.72" font-size="2.5" text-anchor="start" fill="#111" font-weight="normal" textLength="6.75" lengthAdjust="spacingAndGlyphs" stroke="#111" stroke-width="0.18">MEIS1</text>
<text x="448.00" y="136.23" font-size="2.5" text-anchor="start" fill="#111" font-weight="normal" textLength="4.05" lengthAdjust="spacingAndGlyphs" stroke="#111" stroke-width="0.18">HLF</text>
<text x="448.00" y="138.74" font-size="2.5" text-anchor="start" fill="#111" font-weight="normal" textLength="6.75" lengthAdjust="spacingAndGlyphs" stroke="#111" stroke-width="0.18">PROM1</text>
<text x="448.00" y="141.25" font-size="2.5" text-anchor="start" fill="#111" font-weight="normal" textLength="6.75" lengthAdjust="spacingAndGlyphs" stroke="#111" stroke-width="0.18">MECOM</text>
<text x="448.00" y="143.76" font-size="2.5" text-anchor="start" fill="#111" font-weight="normal" textLength="4.05" lengthAdjust="spacingAndGlyphs" stroke="#111" stroke-width="0.18">ERG</text>
<text x="448.00" y="146.27" font-size="2.5" text-anchor="start" fill="#111" font-weight="normal" textLength="6.75" lengthAdjust="spacingAndGlyphs" stroke="#111" stroke-width="0.18">HOXA9</text>
<text x="448.00" y="148.78" font-size="2.5" text-anchor="start" fill="#111" font-weight="normal" textLength="6.75" lengthAdjust="spacingAndGlyphs" stroke="#111" stroke-width="0.18">HOXA5</text>
<text x="448.00" y="151.29" font-size="2.5" text-anchor="start" fill="#111" font-weight="normal" textLength="6.75" lengthAdjust="spacingAndGlyphs" stroke="#111" stroke-width="0.18">MLLT3</text>
<text x="448.00" y="153.80" font-size="2.5" text-anchor="start" fill="#111" font-weight="normal" textLength="6.75" lengthAdjust="spacingAndGlyphs" stroke="#111" stroke-width="0.18">CRHBP</text>
<text x="448.00" y="156.31" font-size="2.5" text-anchor="start" fill="#111" font-weight="normal" textLength="8.1" lengthAdjust="spacingAndGlyphs" stroke="#111" stroke-width="0.18">SPINK2</text>
<text x="448.00" y="158.82" font-size="2.5" text-anchor="start" fill="#111" font-weight="normal" textLength="6.75" lengthAdjust="spacingAndGlyphs" stroke="#111" stroke-width="0.18">BAALC</text>
<text x="448.00" y="161.33" font-size="2.5" text-anchor="start" fill="#111" font-weight="normal" textLength="4.05" lengthAdjust="spacingAndGlyphs" stroke="#111" stroke-width="0.18">MN1</text>
<text x="448.00" y="163.84" font-size="2.5" text-anchor="start" fill="#111" font-weight="normal" textLength="5.4" lengthAdjust="spacingAndGlyphs" stroke="#111" stroke-width="0.18">FLT3</text>
<text x="448.00" y="166.35" font-size="2.5" text-anchor="start" fill="#111" font-weight="normal" textLength="4.05" lengthAdjust="spacingAndGlyphs" stroke="#111" stroke-width="0.18">KIT</text>
<text x="448.00" y="168.86" font-size="2.5" text-anchor="start" fill="#111" font-weight="normal" textLength="5.4" lengthAdjust="spacingAndGlyphs" stroke="#111" stroke-width="0.18">LMO2</text>
<text x="448.00" y="171.37" font-size="2.5" text-anchor="start" fill="#111" font-weight="normal" textLength="5.4" lengthAdjust="spacingAndGlyphs" stroke="#111" stroke-width="0.18">TAL1</text>
<text x="448.00" y="173.88" font-size="2.5" text-anchor="start" fill="#111" font-weight="normal" textLength="9.45" lengthAdjust="spacingAndGlyphs" stroke="#111" stroke-width="0.18">GUCY1A3</text>
<text x="448.00" y="176.39" font-size="2.5" text-anchor="start" fill="#111" font-weight="normal" textLength="5.4" lengthAdjust="spacingAndGlyphs" stroke="#111" stroke-width="0.18">MYCN</text>
<text x="448.00" y="178.90" font-size="2.5" text-anchor="start" fill="#111" font-weight="normal" textLength="5.4" lengthAdjust="spacingAndGlyphs" stroke="#111" stroke-width="0.18">NPR3</text>
<text x="448.00" y="181.41" font-size="2.5" text-anchor="start" fill="#111" font-weight="normal" textLength="5.4" lengthAdjust="spacingAndGlyphs" stroke="#111" stroke-width="0.18">DLK1</text>
<text x="448.00" y="183.92" font-size="2.5" text-anchor="start" fill="#111" font-weight="normal" textLength="8.1" lengthAdjust="spacingAndGlyphs" stroke="#111" stroke-width="0.18">PRDM16</text>
<text x="448.00" y="186.43" font-size="2.5" text-anchor="start" fill="#111" font-weight="normal" textLength="5.4" lengthAdjust="spacingAndGlyphs" stroke="#111" stroke-width="0.18">HOPX</text>
<text x="448.00" y="188.94" font-size="2.5" text-anchor="start" fill="#111" font-weight="normal" textLength="5.4" lengthAdjust="spacingAndGlyphs" stroke="#111" stroke-width="0.18">CD52</text>
<text x="448.00" y="191.46" font-size="2.5" text-anchor="start" fill="#111" font-weight="normal" textLength="6.75" lengthAdjust="spacingAndGlyphs" stroke="#111" stroke-width="0.18">ABCB1</text>
<text x="448.00" y="193.97" font-size="2.5" text-anchor="start" fill="#111" font-weight="normal" textLength="6.75" lengthAdjust="spacingAndGlyphs" stroke="#111" stroke-width="0.18">SOCS2</text>
<text x="448.00" y="196.48" font-size="2.5" text-anchor="start" fill="#111" font-weight="normal" textLength="5.4" lengthAdjust="spacingAndGlyphs" stroke="#111" stroke-width="0.18">EMP1</text>
<text x="448.00" y="198.99" font-size="2.5" text-anchor="start" fill="#111" font-weight="normal" textLength="6.75" lengthAdjust="spacingAndGlyphs" stroke="#111" stroke-width="0.18">NRIP1</text>
<text x="448.00" y="201.50" font-size="2.5" text-anchor="start" fill="#111" font-weight="normal" textLength="5.4" lengthAdjust="spacingAndGlyphs" stroke="#111" stroke-width="0.18">TFPI</text>
<text x="448.00" y="204.01" font-size="2.5" text-anchor="start" fill="#111" font-weight="normal" textLength="5.4" lengthAdjust="spacingAndGlyphs" stroke="#111" stroke-width="0.18">SELL</text>
<text x="448.00" y="206.52" font-size="2.5" text-anchor="start" fill="#111" font-weight="normal" textLength="9.45" lengthAdjust="spacingAndGlyphs" stroke="#111" stroke-width="0.18">CLEC12A</text>
<text x="448.00" y="209.03" font-size="2.5" text-anchor="start" fill="#111" font-weight="normal" textLength="6.75" lengthAdjust="spacingAndGlyphs" stroke="#111" stroke-width="0.18">ITGA6</text>
<text x="448.00" y="211.54" font-size="2.5" text-anchor="start" fill="#111" font-weight="normal" textLength="5.4" lengthAdjust="spacingAndGlyphs" stroke="#111" stroke-width="0.18">PBX1</text>
<text x="448.00" y="214.05" font-size="2.5" text-anchor="start" fill="#111" font-weight="normal" textLength="8.1" lengthAdjust="spacingAndGlyphs" stroke="#111" stroke-width="0.18">ZBTB16</text>
<text x="448.00" y="216.56" font-size="2.5" text-anchor="start" fill="#111" font-weight="normal" textLength="5.4" lengthAdjust="spacingAndGlyphs" stroke="#111" stroke-width="0.18">EGR1</text>
<text x="448.00" y="219.07" font-size="2.5" text-anchor="start" fill="#111" font-weight="normal" textLength="4.05" lengthAdjust="spacingAndGlyphs" stroke="#111" stroke-width="0.18">FOS</text>
<text x="448.00" y="221.58" font-size="2.5" text-anchor="start" fill="#111" font-weight="normal" textLength="5.4" lengthAdjust="spacingAndGlyphs" stroke="#111" stroke-width="0.18">JUNB</text>
<text x="448.00" y="224.09" font-size="2.5" text-anchor="start" fill="#111" font-weight="normal" textLength="5.4" lengthAdjust="spacingAndGlyphs" stroke="#111" stroke-width="0.18">IER2</text>
<text x="448.00" y="226.60" font-size="2.5" text-anchor="start" fill="#111" font-weight="normal" textLength="6.75" lengthAdjust="spacingAndGlyphs" stroke="#111" stroke-width="0.18">DUSP6</text>
<text x="448.00" y="229.11" font-size="2.5" text-anchor="start" fill="#111" font-weight="normal" textLength="4.05" lengthAdjust="spacingAndGlyphs" stroke="#111" stroke-width="0.18">ID1</text>
<text x="448.00" y="231.62" font-size="2.5" text-anchor="start" fill="#111" font-weight="normal" textLength="5.4" lengthAdjust="spacingAndGlyphs" stroke="#111" stroke-width="0.18">KLF2</text>
<text x="448.00" y="234.13" font-size="2.5" text-anchor="start" fill="#111" font-weight="normal" textLength="6.75" lengthAdjust="spacingAndGlyphs" stroke="#111" stroke-width="0.18">CXCR4</text>
<text x="448.00" y="236.64" font-size="2.5" text-anchor="start" fill="#111" font-weight="normal" textLength="5.4" lengthAdjust="spacingAndGlyphs" stroke="#111" stroke-width="0.18">MSI2</text>
<text x="448.00" y="239.15" font-size="2.5" text-anchor="start" fill="#111" font-weight="normal" textLength="5.4" lengthAdjust="spacingAndGlyphs" stroke="#111" stroke-width="0.18">CDK6</text>
<text x="448.00" y="241.66" font-size="2.5" text-anchor="start" fill="#111" font-weight="normal" textLength="5.4" lengthAdjust="spacingAndGlyphs" stroke="#111" stroke-width="0.18">BCL2</text>
<text x="448.00" y="244.17" font-size="2.5" text-anchor="start" fill="#111" font-weight="normal" textLength="6.75" lengthAdjust="spacingAndGlyphs" stroke="#111" stroke-width="0.18">IKZF2</text>
<text x="448.00" y="246.68" font-size="2.5" text-anchor="start" fill="#111" font-weight="normal" textLength="8.1" lengthAdjust="spacingAndGlyphs" stroke="#111" stroke-width="0.18">ANGPT1</text>
<text x="448.00" y="249.19" font-size="2.5" text-anchor="start" fill="#111" font-weight="normal" textLength="4.05" lengthAdjust="spacingAndGlyphs" stroke="#111" stroke-width="0.18">MPL</text>
<text x="448.00" y="251.70" font-size="2.5" text-anchor="start" fill="#111" font-weight="normal" textLength="5.4" lengthAdjust="spacingAndGlyphs" stroke="#111" stroke-width="0.18">CD99</text>
<rect x="447.00" y="131.80" width="5.60" height="2.80" fill="none" stroke="#e3202c" stroke-width="1.0" rx="0.6"/>
<rect x="381.50" y="126.10" width="128.00" height="126.50" fill="none" stroke="#000" stroke-width="1.35"/>
</svg></body></html>
